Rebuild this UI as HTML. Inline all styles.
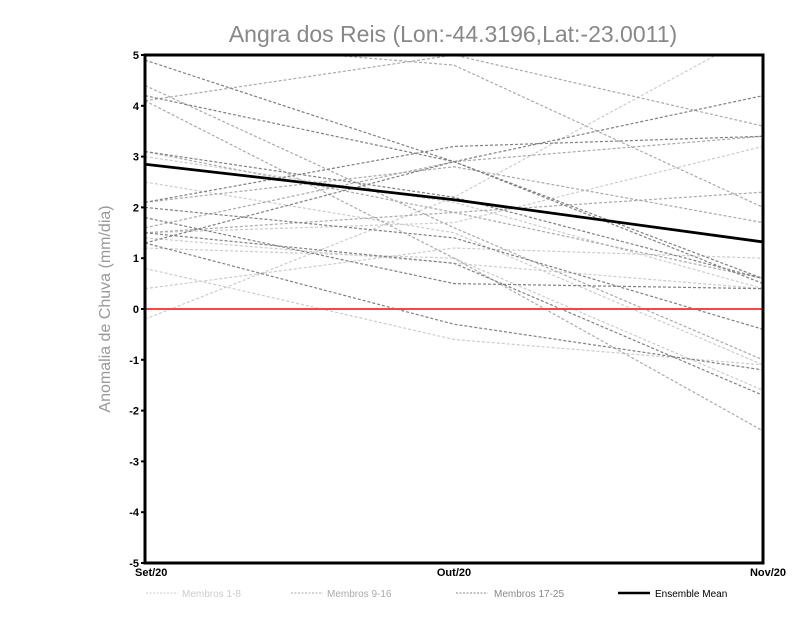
<!DOCTYPE html>
<html><head><meta charset="utf-8"><style>
body{margin:0;background:#fff;}
svg{display:block;font-family:"Liberation Sans",sans-serif;}
</style></head><body>
<svg id="chart" width="800" height="618" viewBox="0 0 800 618">
<text x="453" y="42" text-anchor="middle" font-size="23" fill="#888">Angra dos Reis (Lon:-44.3196,Lat:-23.0011)</text>
<text transform="translate(110,309) rotate(-90)" text-anchor="middle" font-size="16" fill="#999">Anomalia de Chuva (mm/dia)</text>
<defs><clipPath id="clip"><rect x="145" y="55" width="618" height="508"/></clipPath></defs>
<g id="lines" clip-path="url(#clip)"></g>
<g id="axes"></g>
<g font-size="10">
<line x1="146" y1="593" x2="178" y2="593" stroke="#ccc" stroke-dasharray="2,1.5"/>
<text x="182" y="597" fill="#ccc">Membros 1-8</text>
<line x1="291" y1="593" x2="323" y2="593" stroke="#aaa" stroke-dasharray="2,1.5"/>
<text x="327" y="597" fill="#aaa">Membros 9-16</text>
<line x1="456" y1="593" x2="488" y2="593" stroke="#888" stroke-dasharray="2,1.5"/>
<text x="494" y="597" fill="#888">Membros 17-25</text>
<line x1="618" y1="593" x2="650" y2="593" stroke="#000" stroke-width="2.5"/>
<text x="655" y="597" fill="#000">Ensemble Mean</text>
</g>
</svg>
<script>
const categories = ["Set/20","Out/20","Nov/20"];
const yTicks = [-5,-4,-3,-2,-1,0,1,2,3,4,5];
const members1to8 = [[0.4,1.2,1.0],[-0.2,2.2,5.5],[0.8,-0.6,-1.1],[1.2,1.0,-1.6],[1.5,1.7,3.2],[2.5,1.5,-1.1],[3.0,2.1,0.4],[1.4,0.9,0.4]];
const members9to16 = [[4.1,5.0,3.6],[4.4,1.6,-1.0],[3.1,1.9,0.6],[1.6,2.9,3.4],[5.3,4.8,2.0],[1.5,1.9,2.3],[4.1,1.0,-2.4],[2.1,2.8,1.7]];
const members17to25 = [[4.9,2.9,0.6],[4.2,2.9,0.5],[2.1,3.2,3.4],[1.3,2.9,4.2],[1.8,0.5,0.4],[1.3,-0.3,-1.2],[2.0,1.4,-0.4],[3.1,2.2,0.6],[1.5,0.9,-1.7]];
const ensembleMean = [2.85,2.15,1.32];

const X0=145,X1=763,Y0=563,Y1=55;
const xs=i=>X0+i*(X1-X0)/(categories.length-1);
const ys=v=>Y0-(v+5)*(Y0-Y1)/10;
const NS="http://www.w3.org/2000/svg";
const lines=document.getElementById('lines'), axes=document.getElementById('axes');
function poly(vals,stroke,w,dash,parent){
  const p=document.createElementNS(NS,'polyline');
  p.setAttribute('points',vals.map((v,i)=>xs(i)+','+ys(v)).join(' '));
  p.setAttribute('fill','none');p.setAttribute('stroke',stroke);p.setAttribute('stroke-width',w);
  if(dash)p.setAttribute('stroke-dasharray',dash);
  parent.appendChild(p);return p;
}
members1to8.forEach(m=>{const p=poly(m,'#ccc',1.2,'3,2',lines);

});
members9to16.forEach(m=>{const p=poly(m,'#aaa',1.2,'3,2',lines);

});
members17to25.forEach(m=>{const p=poly(m,'#808080',1.2,'3,2',lines);

});
const zl=document.createElementNS(NS,'line');
zl.setAttribute('x1',X0);zl.setAttribute('x2',X1);zl.setAttribute('y1',ys(0));zl.setAttribute('y2',ys(0));
zl.setAttribute('stroke','#f44');zl.setAttribute('stroke-width',2);


lines.appendChild(zl);
const mp=poly(ensembleMean,'#000',2.8,null,lines);


const fr=document.createElementNS(NS,'rect');
fr.setAttribute('x',X0);fr.setAttribute('y',Y1);fr.setAttribute('width',X1-X0);fr.setAttribute('height',Y0-Y1);
fr.setAttribute('fill','none');fr.setAttribute('stroke','#000');fr.setAttribute('stroke-width',3);


axes.appendChild(fr);
yTicks.forEach(t=>{
  const l=document.createElementNS(NS,'line');
  l.setAttribute('x1',X0-4);l.setAttribute('x2',X0);l.setAttribute('y1',ys(t));l.setAttribute('y2',ys(t));l.setAttribute('stroke','#000');l.setAttribute('stroke-width',2);
  axes.appendChild(l);
  const tx=document.createElementNS(NS,'text');
  tx.setAttribute('x',X0-6);tx.setAttribute('y',ys(t)+4);tx.setAttribute('text-anchor','end');
  tx.setAttribute('font-size','11');tx.setAttribute('font-weight','bold');
  tx.textContent=t;
  
  
  axes.appendChild(tx);
});
categories.forEach((c,i)=>{
  const tx=document.createElementNS(NS,'text');
  tx.setAttribute('x',xs(i)+(i==0?-10:i==categories.length-1?5:0));tx.setAttribute('y',Y0+13);
  tx.setAttribute('text-anchor',i==0?'start':'middle');
  tx.setAttribute('font-size','11');tx.setAttribute('font-weight','bold');
  tx.textContent=c;
  
  
  axes.appendChild(tx);
});
</script>
</body></html>
